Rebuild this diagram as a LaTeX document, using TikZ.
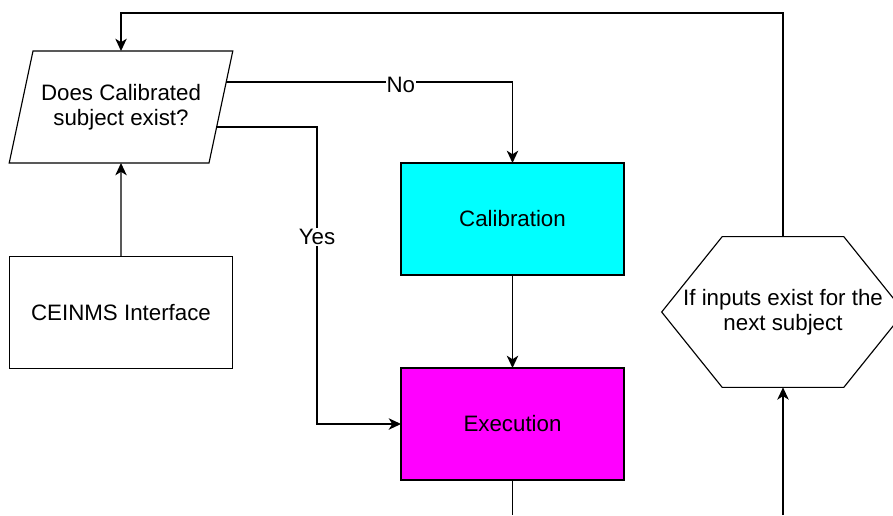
\documentclass[tikz,border=0pt]{standalone}
\usepackage{fontspec}
\setmainfont{Liberation Sans}
\usetikzlibrary{calc,shapes.geometric,arrows.meta}
\definecolor{calibcol}{RGB}{0,255,255}
\definecolor{execcol}{RGB}{255,0,255}
\tikzset{
	box/.style={draw, line width=0.65pt, minimum width=4.46cm, minimum height=2.24cm, align=center, outer sep=0pt},
	flow/.style={line width=0.8pt, -{Stealth[length=7pt, width=6.5pt, inset=2pt]}},
	wire/.style={line width=0.8pt},
	lbl/.style={fill=white, inner sep=0.6pt}
}

\begin{document}
\begin{tikzpicture}[x=0.02cm, y=-0.02cm, font=\fontsize{12.7}{14.2}\selectfont]
		%%%%% START %%%%%
		\clip (0,0) rectangle (893,515);
		
		\node[box, trapezium, trapezium left angle=68, trapezium right angle=112, trapezium stretches=true, minimum width=4.48cm] (query) at (121,107) {Does Calibrated\\subject exist?};
		\node[box] (ceinms) at (121,312.5) {CEINMS Interface};
		\node[box, fill=calibcol] (calib) at (512.5,219) {Calibration};
		\node[box, fill=execcol] (exec) at (512.5,424) {Execution};
		
		% hexagon, outline drawn round the text node
		\node[align=center, minimum width=4.84cm, minimum height=3cm, inner sep=0pt] (nextsub) at (783,312) {If inputs exist for the\\next subject};
		\draw[line width=0.65pt] (nextsub.west) -- ($(nextsub.north west)+(60.5,0)$) -- ($(nextsub.north east)+(-60.5,0)$) -- (nextsub.east) -- ($(nextsub.south east)+(-60.5,0)$) -- ($(nextsub.south west)+(60.5,0)$) -- cycle;
		
		\coordinate (nostart) at ($(query.top right corner)!0.277!(query.bottom right corner)$);
		\coordinate (yesstart) at ($(query.top right corner)!0.679!(query.bottom right corner)$);
		\coordinate (execout) at (512.5,515);
		\coordinate (nextin) at (783,515);
		
		\draw[flow] (ceinms.north) -- (query.south);
		\draw[flow] (nostart) -| node[lbl, pos=0.305, yshift=-0.06cm] (nolbl) {No} (calib.north);
		\draw[flow] (yesstart) -| node[lbl, pos=0.685] (yeslbl) {Yes} ($(exec.west)+(-84,0)$) -- (exec.west);
		\draw[flow] (calib.south) -- (exec.north);
		\draw[wire] (exec.south) -- (execout);
		\draw[flow] (nextin) -- (nextsub.south);
		\draw[flow] (nextsub.north) |- ($(query.north)+(0,-38)$) -- (query.north);
		%%%%% END %%%%%
\end{tikzpicture}
\end{document}
